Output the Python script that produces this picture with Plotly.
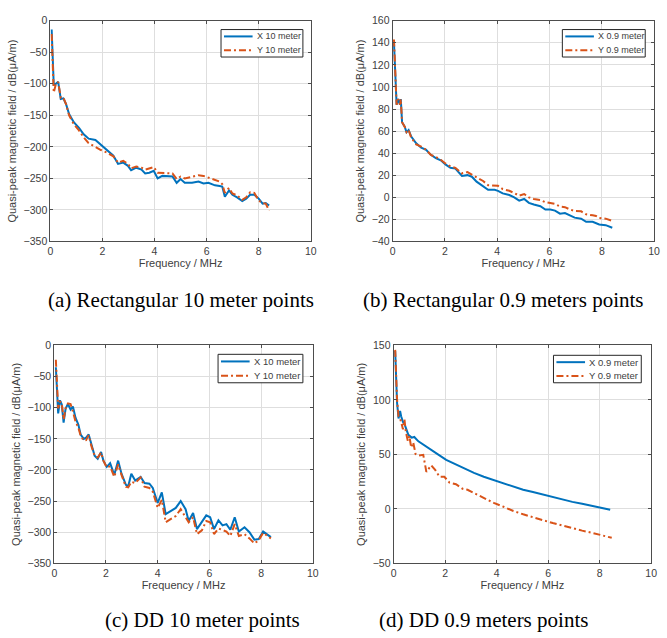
import plotly.graph_objects as go

BLUE = "#0072BD"
ORANGE = "#D95319"
DASHDOT = "7px,3px,2px,3px"
SANS = "Liberation Sans, Arial, sans-serif"
SERIF = "Liberation Serif, Times New Roman, serif"
TEXT_GREY = "#404040"
W, H = 667, 638

# (a) Rectangular, 10 meter points
FREQ_A = [0.05, 0.13, 0.21, 0.3, 0.4, 0.5, 0.6, 0.72, 0.9, 1.1, 1.28, 1.47, 1.73, 1.94, 2.17,
          2.42, 2.6, 2.8, 2.98, 3.1, 3.3, 3.5, 3.64, 3.8, 3.97, 4.12, 4.3, 4.5, 4.69, 4.85,
          5.0, 5.16, 5.44, 5.69, 5.88, 6.07, 6.32, 6.5, 6.6, 6.7, 6.86, 6.99, 7.17, 7.37,
          7.52, 7.67, 7.83, 8.0, 8.15, 8.27, 8.4]
X_A = [-14, -101, -100, -97, -124, -123, -132, -148, -161, -170, -180, -187, -189, -197, -206,
       -214, -227, -225, -230, -237, -233, -236, -242, -241, -238, -250, -246, -247, -247, -257,
       -251, -257, -257, -255, -258, -257, -261, -262, -263, -279, -269, -276, -280, -286,
       -282, -276, -276, -282, -290, -289, -293]
Y_A = [-21, -114, -101, -97, -122, -122, -132, -150, -164, -174, -185, -194, -200, -205, -209,
       -215, -225, -222, -227, -234, -231, -233, -236, -234, -232, -241, -241, -242, -242, -251,
       -247, -250, -247, -245, -246, -249, -252, -255, -259, -273, -265, -274, -277, -284,
       -280, -272, -273, -285, -289, -290, -301]

# (b) Rectangular, 0.9 meters points
FREQ_B = [0.05, 0.15, 0.21, 0.28, 0.31, 0.36, 0.46, 0.53, 0.61, 0.71, 0.9, 1.09, 1.28, 1.46,
          1.65, 1.84, 2.03, 2.21, 2.4, 2.65, 2.86, 3.03, 3.21, 3.46, 3.65, 3.9, 4.03, 4.21,
          4.46, 4.65, 4.84, 5.03, 5.21, 5.4, 5.65, 5.84, 6.03, 6.21, 6.4, 6.59, 6.78, 6.96,
          7.21, 7.4, 7.65, 7.78, 7.9, 8.15, 8.4]
X_B = [140, 84, 89, 84, 89, 68, 64, 59, 61, 55, 49, 45, 43, 38.5, 35.6, 33.5, 29.6, 26.7, 26,
       19.3, 20.1, 18.7, 14.2, 10.4, 6.8, 6.8, 5.9, 3.6, 2.1, 0, -3, -1.5, -5, -6.5, -8, -11,
       -11, -12, -14.8, -14.2, -16.3, -18.4, -19.3, -22.2, -22.2, -23.1, -24.6, -25.2, -27.6]
Y_B = [143, 84, 89, 84, 89, 68, 64, 59, 61, 54, 48, 46, 43, 38.5, 36.5, 34, 30.5, 28, 26.7,
       21.7, 22.9, 20.7, 17.8, 14.8, 11, 11, 10.4, 7.4, 5.9, 3.9, 1.5, 3, 0, -1.5, -2.4, -4.4,
       -5.3, -6, -8.3, -8.9, -11, -12.4, -12.7, -15.4, -16.3, -16.9, -18.7, -19.3, -21.3]

# (c) DD, 10 meter points
FREQ_C = [0.06, 0.15, 0.22, 0.29, 0.36, 0.44, 0.53, 0.63, 0.72, 0.82, 0.93, 1.02, 1.14, 1.23,
          1.33, 1.43, 1.56, 1.68, 1.81, 1.9, 2.03, 2.16, 2.32, 2.47, 2.6, 2.77, 2.86, 2.98,
          3.13, 3.34, 3.49, 3.68, 3.81, 4.0, 4.16, 4.31, 4.5, 4.7, 4.89, 5.08, 5.2, 5.37, 5.52,
          5.71, 5.88, 6.03, 6.18, 6.35, 6.51, 6.66, 6.81, 6.98, 7.14, 7.36, 7.55, 7.74, 7.91,
          8.08, 8.25, 8.38]
X_C = [-35, -109, -88, -95, -124, -101, -94, -103, -98, -116,
       -127, -143, -150, -148, -143, -158, -177, -182, -171, -185,
       -195, -189, -208, -185, -206, -224, -226, -206, -217, -211,
       -221, -222, -229, -253, -236, -271, -266, -261, -250, -263,
       -282, -269, -295, -284, -273, -276, -295, -281, -289, -287,
       -296, -276, -299, -292, -300, -312, -311, -299, -304, -308]
Y_C = [-23, -101, -90, -93, -119, -101, -93, -94, -106, -122,
       -132, -145, -153, -152, -144, -161, -177, -180, -172, -185,
       -196, -194, -211, -191, -208, -227, -228, -219, -221, -212,
       -227, -229, -235, -261, -248, -284, -279, -274, -263, -276,
       -284, -276, -303, -297, -282, -284, -303, -294, -297, -299,
       -306, -287, -306, -303, -310, -318, -313, -301, -306, -310]

# (d) DD, 0.9 meters points
FREQ_D_X = [0.06, 0.13, 0.19, 0.25, 0.29, 0.36, 0.45, 0.57, 0.7, 0.8, 0.96, 1.21, 1.46, 1.72,
            2.04, 2.36, 2.74, 3.12, 3.5, 3.89, 4.27, 4.65, 5.03, 5.41, 5.8, 6.18, 6.56, 6.94,
            7.32, 7.71, 8.09, 8.41]
X_D = [145, 98, 83, 90, 85, 80, 76, 68, 65.4, 66, 62, 58, 53.4, 50, 45, 41.5, 37, 33, 29.5,
       26.5, 23.5, 20.5, 17.5, 15.4, 13, 10.6, 8.5, 6.4, 4.6, 2.5, 1, -0.8]
FREQ_D_Y = [0.06, 0.13, 0.19, 0.25, 0.32, 0.36, 0.42, 0.47, 0.55, 0.61, 0.68, 0.76, 0.85, 0.98,
            1.15, 1.27, 1.46, 1.62, 1.78, 1.97, 2.17, 2.42, 2.68, 2.87, 3.12, 3.5, 3.89, 4.27,
            4.65, 5.03, 5.41, 5.8, 6.18, 6.56, 6.94, 7.32, 7.71, 8.09, 8.47]
Y_D = [146, 101, 85, 83, 77, 73, 82, 71, 62.4, 67, 56.4, 61, 50.4, 49, 49.6, 34, 40, 35.5,
       29.5, 29.5, 24, 22.6, 18.4, 17.5, 14.5, 10, 5.5, 1.9, -2, -5, -8, -10.4, -13, -15.5,
       -17.6, -20, -22, -24.5, -26.6]

CAPTIONS = [
    "(a) Rectangular 10 meter points",
    "(b) Rectangular 0.9 meters points",
    "(c) DD 10 meter points",
    "(d) DD 0.9 meters points",
]
Y_TITLE = "Quasi-peak magnetic field / dB(μA/m)"
X_TITLE = "Frequency / MHz"


def px_x(v):
    return v / W


def px_y(v):
    return 1 - v / H


fig = go.Figure()


def add_legend(label, box, font_size):
    # MATLAB-style compact legend box: outline, two line samples, two labels
    x0, y0, x1, y1 = box
    row_h = (y1 - y0) / 2
    fig.add_shape(type="rect", xref="paper", yref="paper",
                  x0=px_x(x0), x1=px_x(x1), y0=px_y(y1), y1=px_y(y0),
                  line=dict(color="#262626", width=1), fillcolor="white", layer="above")
    rows = [(f"X {label}", BLUE, "solid"), (f"Y {label}", ORANGE, DASHDOT)]
    for i, (text, color, dash) in enumerate(rows):
        cy = y0 + row_h * (i + 0.5)
        fig.add_shape(type="line", xref="paper", yref="paper",
                      x0=px_x(x0 + 3), x1=px_x(x0 + 32), y0=px_y(cy), y1=px_y(cy),
                      line=dict(color=color, width=2, dash=dash), layer="above")
        fig.add_annotation(text=text, x=px_x(x0 + 34), y=px_y(cy), xref="paper", yref="paper",
                           xanchor="left", yanchor="middle", showarrow=False,
                           font=dict(family=SANS, size=font_size, color=TEXT_GREY))


def add_panel(idx, fx, xs, fy, ys, label, yrange, ydtick, left, right, top, bottom,
              legend_box, legend_font):
    suffix = "" if idx == 1 else str(idx)
    common = dict(mode="lines", xaxis=f"x{suffix}", yaxis=f"y{suffix}",
                  showlegend=False, hoverinfo="skip")
    fig.add_trace(go.Scatter(x=fx, y=xs, name=f"X {label}",
                             line=dict(color=BLUE, width=2), **common))
    fig.add_trace(go.Scatter(x=fy, y=ys, name=f"Y {label}",
                             line=dict(color=ORANGE, width=2, dash=DASHDOT), **common))

    axis_style = dict(
        showgrid=True, gridcolor="#dedede", gridwidth=1, zeroline=False,
        showline=True, linecolor="#4d4d4d", linewidth=1, mirror="ticks",
        ticks="inside", ticklen=3, tickcolor="#4d4d4d",
        tickfont=dict(family=SANS, size=10.5, color=TEXT_GREY),
    )
    fig.update_layout({
        f"xaxis{suffix}": dict(
            domain=[px_x(left), px_x(right)], anchor=f"y{suffix}",
            range=[0, 10], dtick=2,
            title=dict(text=X_TITLE, font=dict(family=SANS, size=11, color=TEXT_GREY), standoff=3),
            **axis_style,
        ),
        f"yaxis{suffix}": dict(
            domain=[px_y(bottom), px_y(top)], anchor=f"x{suffix}",
            range=yrange, dtick=ydtick,
            title=dict(text=Y_TITLE, font=dict(family=SANS, size=11, color=TEXT_GREY), standoff=4),
            **axis_style,
        ),
    })
    add_legend(label, legend_box, legend_font)


add_panel(1, FREQ_A, X_A, FREQ_A, Y_A, "10 meter", [-350, 0], 50,
          48, 312, 15, 240, (221, 24, 304, 52), 9)
add_panel(2, FREQ_B, X_B, FREQ_B, Y_B, "0.9 meter", [-40, 160], 20,
          395, 660, 15, 240, (567, 24, 651, 52), 9)
add_panel(3, FREQ_C, X_C, FREQ_C, Y_C, "10 meter", [-350, 0], 50,
          52, 314, 346, 568, (218, 355, 304, 384), 9.5)
add_panel(4, FREQ_D_X, X_D, FREQ_D_Y, Y_D, "0.9 meter", [-50, 150], 50,
          396, 657, 346, 568, (558, 356, 647, 384), 9.5)

caption_pos = [(180.5, 300), (507, 300), (202, 626), (487, 626)]
for text, (cx, cy) in zip(CAPTIONS, caption_pos):
    fig.add_annotation(text=text, x=px_x(cx), y=px_y(cy), xref="paper", yref="paper",
                       xanchor="center", yanchor="middle", showarrow=False,
                       font=dict(family=SERIF, size=21, color="black"))

fig.update_layout(
    width=W, height=H,
    margin=dict(l=0, r=0, t=0, b=0),
    paper_bgcolor="white", plot_bgcolor="white",
)

# drop the browser's default 8px body margin so the figure sits flush with the window
fig.write_html("out.html", config={"displayModeBar": False},
               post_script="document.body.style.margin = '0';")
